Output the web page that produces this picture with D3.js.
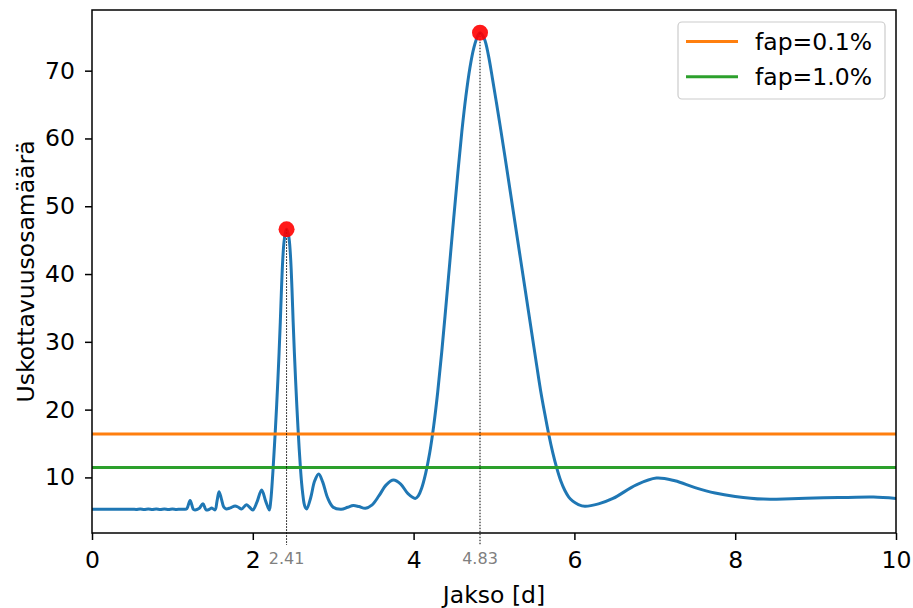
<!DOCTYPE html>
<html><head><meta charset="utf-8">
<script src="https://cdn.jsdelivr.net/npm/d3@7"></script>
<style>body{margin:0;background:#fff}svg{display:block}text{font-family:"DejaVu Sans",sans-serif}</style>
</head><body>
<svg id="c" width="913" height="608"></svg>
<script>
const period = [0.0,0.1,0.2,0.3,0.4,0.5,0.55,0.6,0.65,0.7,0.75,0.8,0.85,0.9,0.95,1.0,1.05,1.1,1.15,1.18,1.22,1.26,1.28,1.33,1.38,1.42,1.46,1.49,1.53,1.555,1.58,1.61,1.64,1.67,1.72,1.78,1.82,1.86,1.92,1.96,2.0,2.05,2.11,2.16,
  2.205,2.222,2.237,2.252,2.267,2.282,2.297,2.312,2.327,2.342,2.357,2.372,2.387,2.402,2.42,2.442,2.457,2.472,2.487,2.502,2.517,2.532,2.547,2.562,2.577,2.592,2.607,2.622,2.637,2.652,2.67,
  2.72,2.77,2.82,2.87,2.93,3.0,3.1,3.18,3.25,3.32,3.4,3.48,3.57,3.66,3.75,3.84,3.93,4.02,4.06,
  4.1,4.15,4.2,4.25,4.3,4.35,4.4,4.45,4.5,4.55,4.6,4.65,4.7,4.75,4.8,4.826,4.88,4.93,4.98,5.03,5.08,5.13,5.18,5.23,5.28,5.33,5.38,5.43,5.48,5.53,5.58,5.63,5.68,5.73,5.78,5.83,5.88,5.93,5.98,6.05,6.13,
  6.3,6.48,6.77,7.02,7.25,7.5,7.75,8.0,8.35,8.7,9.1,9.4,9.72,10.0];
const power = [5.3,5.3,5.3,5.3,5.3,5.32,5.28,5.33,5.27,5.34,5.28,5.33,5.26,5.35,5.27,5.34,5.28,5.32,5.3,5.4,6.6,5.3,5.2,5.4,6.1,5.2,5.3,5.5,5.2,6.5,7.9,6.8,5.6,5.35,5.5,5.8,5.6,5.35,5.95,5.6,5.2,6.3,8.15,6.5,
  5.2,6.4,8.5,11.2,14.2,17.3,20.7,24.4,28.4,32.9,37.9,42.0,44.6,45.9,46.6,45.9,44.6,42.0,37.9,32.9,28.4,24.4,20.7,17.3,14.2,11.5,9.2,7.5,6.2,5.6,5.35,
  7.0,9.5,10.5,9.3,7.0,5.6,5.3,5.6,5.85,5.7,5.45,5.9,7.3,8.9,9.6,9.0,7.6,6.9,7.3,
  8.4,10.6,13.6,17.6,22.6,28.5,35.0,41.7,48.4,54.9,61.0,66.2,70.4,73.4,75.2,75.6,74.7,72.3,68.9,65.3,61.6,57.8,53.9,50.0,46.1,42.2,38.3,34.4,30.5,26.6,22.8,19.5,16.4,13.7,11.4,9.5,8.1,7.1,6.5,6.0,5.75,
  6.1,6.9,8.9,9.9,9.5,8.5,7.7,7.2,6.8,6.85,7.0,7.05,7.1,6.9];
const peakPeriods = [2.42, 4.826];
const peakPowers = [46.6, 75.6];
const peakLabels = ["2.41", "4.83"];
const fapLabels = ["fap=0.1%", "fap=1.0%"];
const fapLevels = [16.4, 11.45];
const fapColors = ["#ff7f0e", "#2ca02c"];
const xTicks = [0, 2, 4, 6, 8, 10];
const yTicks = [10, 20, 30, 40, 50, 60, 70];
const xLabel = "Jakso [d]";
const yLabel = "Uskottavuusosamäärä";

const svg = d3.select("#c");
const L = 92, R = 896, T = 10, B = 533;
const x = d3.scaleLinear().domain([0, 10]).range([L, R]);
const y = d3.scaleLinear().domain([1.8, 78.95]).range([B, T]);
const FS = 23.5;

svg.append("clipPath").attr("id", "clip").append("rect").attr("x", L).attr("y", T).attr("width", R - L).attr("height", B - T);

const data = period.map((p, i) => [p, power[i]]);
svg.append("path").datum(data).attr("clip-path", "url(#clip)")
  .attr("fill", "none").attr("stroke", "#1f77b4").attr("stroke-width", 3).attr("stroke-linejoin", "round")
  .attr("d", d3.line().x(d => x(d[0])).y(d => y(d[1])).curve(d3.curveCatmullRom.alpha(0.5)));

fapLevels.forEach((v, i) => {
  svg.append("line").attr("x1", L).attr("x2", R).attr("y1", y(v)).attr("y2", y(v))
    .attr("stroke", fapColors[i]).attr("stroke-width", 3);
});

peakPeriods.forEach((p, i) => {
  svg.append("line").attr("x1", x(p)).attr("x2", x(p)).attr("y1", y(peakPowers[i])).attr("y2", 545)
    .attr("stroke", "#000").attr("stroke-width", 1).attr("stroke-dasharray", "1.5,1.5");
  svg.append("text").attr("x", x(p)).attr("y", 564).attr("text-anchor", "middle")
    .attr("font-size", 16).attr("fill", "#808080").text(peakLabels[i]);
});
peakPeriods.forEach((p, i) => {
  svg.append("circle").attr("cx", x(p)).attr("cy", y(peakPowers[i])).attr("r", 8)
    .attr("fill", "red").attr("fill-opacity", 0.9);
});

// axes
const xa = svg.append("g").attr("transform", `translate(0,${B})`)
  .call(d3.axisBottom(x).tickValues(xTicks).tickFormat(d3.format("d")).tickSize(7).tickPadding(11));
const ya = svg.append("g").attr("transform", `translate(${L},0)`)
  .call(d3.axisLeft(y).tickValues(yTicks).tickFormat(d3.format("d")).tickSize(7).tickPadding(10));
[xa, ya].forEach(g => {
  g.select(".domain").remove();
  g.selectAll("line").attr("stroke", "#000").attr("stroke-width", 1.5);
  g.selectAll("text").attr("font-size", FS).attr("fill", "#000").style("font-family", "DejaVu Sans");
});
svg.append("rect").attr("x", L).attr("y", T).attr("width", R - L).attr("height", B - T)
  .attr("fill", "none").attr("stroke", "#000").attr("stroke-width", 1.5);

svg.append("text").attr("x", (L + R) / 2).attr("y", 603).attr("text-anchor", "middle")
  .attr("font-size", FS).text(xLabel);
svg.append("text").attr("transform", `translate(34,${(T + B) / 2}) rotate(-90)`)
  .attr("text-anchor", "middle").attr("font-size", FS).text(yLabel);

// legend
const lg = svg.append("g");
lg.append("rect").attr("x", 678).attr("y", 22).attr("width", 207).attr("height", 77).attr("rx", 4)
  .attr("fill", "#fff").attr("fill-opacity", 0.8).attr("stroke", "#ccc").attr("stroke-width", 1.2);
fapLabels.forEach((t, i) => {
  const yy = 41.5 + i * 35.3;
  lg.append("line").attr("x1", 686).attr("x2", 738).attr("y1", yy).attr("y2", yy)
    .attr("stroke", fapColors[i]).attr("stroke-width", 3);
  lg.append("text").attr("x", 755).attr("y", yy + 8.5).attr("font-size", FS).text(t);
});
</script>
</body></html>
